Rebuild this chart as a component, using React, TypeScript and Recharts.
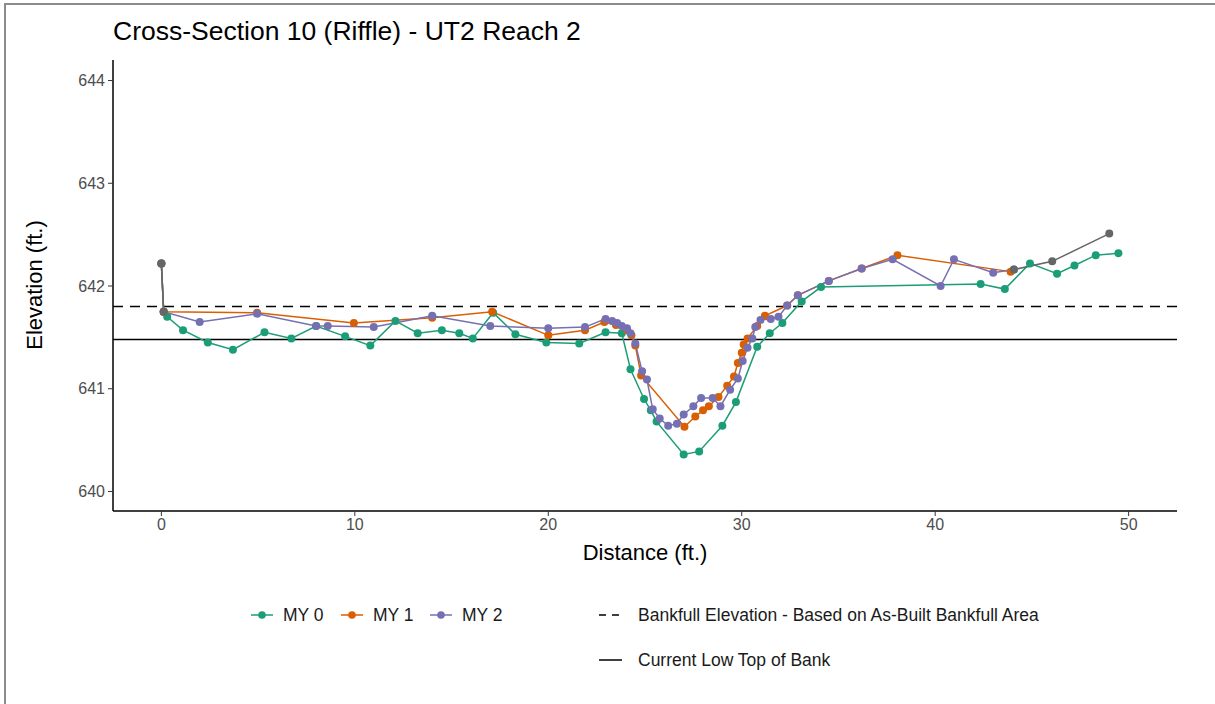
import { LineChart, Line, XAxis, YAxis, ReferenceLine } from "recharts"

// distance (ft.) / elevation (ft.)
const my0Distance = [0, 0.12, 0.3, 1.12, 2.4, 3.7, 5.33, 6.72, 8.0, 9.5, 10.8, 12.1, 13.25, 14.5, 15.4, 16.1, 17.15, 18.3, 19.9, 21.6, 22.96, 23.8, 24.25, 24.95, 25.3, 25.6, 27.0, 27.8, 29.0, 29.7, 30.8, 31.45, 32.1, 33.1, 34.1, 42.35, 43.6, 44.9, 46.3, 47.2, 48.3, 49.47]
const my0Elevation = [642.22, 641.75, 641.7, 641.57, 641.45, 641.38, 641.55, 641.49, 641.61, 641.51, 641.42, 641.66, 641.54, 641.57, 641.54, 641.49, 641.74, 641.53, 641.45, 641.44, 641.55, 641.54, 641.19, 640.9, 640.79, 640.68, 640.36, 640.39, 640.64, 640.87, 641.41, 641.54, 641.64, 641.85, 641.99, 642.02, 641.97, 642.22, 642.12, 642.2, 642.3, 642.32]

const my1Distance = [0, 0.12, 4.95, 9.95, 14.0, 17.1, 20.0, 21.9, 22.9, 23.5, 24.07, 24.3, 24.5, 24.8, 27.04, 27.6, 28.0, 28.3, 28.8, 29.25, 29.6, 29.8, 30.0, 30.1, 30.3, 30.8, 31.2, 32.35, 32.9, 34.5, 36.2, 38.05, 43.9]
const my1Elevation = [642.22, 641.75, 641.74, 641.64, 641.69, 641.75, 641.52, 641.57, 641.65, 641.62, 641.57, 641.52, 641.42, 641.13, 640.63, 640.73, 640.79, 640.83, 640.92, 641.03, 641.12, 641.25, 641.35, 641.43, 641.49, 641.61, 641.71, 641.81, 641.91, 642.05, 642.17, 642.3, 642.14]

const my2Distance = [0, 0.12, 1.98, 4.95, 8.0, 8.6, 10.98, 14.0, 17.0, 20.0, 21.9, 22.96, 23.3, 23.56, 23.8, 24.07, 24.25, 24.5, 24.85, 25.1, 25.4, 25.76, 26.2, 26.65, 27.0, 27.5, 27.9, 28.5, 28.9, 29.4, 29.8, 30.05, 30.3, 30.55, 30.7, 30.97, 31.5, 31.9, 32.35, 32.9, 34.5, 36.2, 37.8, 40.28, 40.97, 43.0, 44.07]
const my2Elevation = [642.22, 641.75, 641.65, 641.73, 641.61, 641.61, 641.6, 641.71, 641.61, 641.59, 641.6, 641.68, 641.66, 641.64, 641.61, 641.59, 641.54, 641.44, 641.17, 641.09, 640.8, 640.71, 640.64, 640.66, 640.75, 640.83, 640.91, 640.91, 640.83, 640.99, 641.1, 641.27, 641.4, 641.49, 641.6, 641.67, 641.68, 641.7, 641.81, 641.91, 642.05, 642.17, 642.26, 642.0, 642.26, 642.13, 642.16]

// gray overlay points (no legend entry); null breaks the line
const extraDistance = [0, 0.12, 20, 44.07, 46.05, 49.0]
const extraElevation = [642.22, 641.75, null, 642.16, 642.24, 642.51]

const bankfullElevation = 641.8
const lowTopOfBank = 641.48

const xTicks = [0, 10, 20, 30, 40, 50]
const yTicks = [640, 641, 642, 643, 644]

const zip = (xs: number[], ys: (number | null)[]) => xs.map((d, i) => ({ distance: d, elevation: ys[i] }))

const my0 = zip(my0Distance, my0Elevation)
const my1 = zip(my1Distance, my1Elevation)
const my2 = zip(my2Distance, my2Elevation)
const extra = zip(extraDistance, extraElevation)

const font = "'Liberation Sans', Arial, Helvetica, sans-serif"

function LegendBox() {
  const pointItem = (cx: number, color: string, label: string) => (
    <g key={label}>
      <line x1={cx - 11} x2={cx + 11} y1={15} y2={15} stroke={color} strokeWidth={1.5} />
      <circle cx={cx} cy={15} r={3.8} fill={color} />
      <text x={cx + 21} y={21} fontSize={17.5} fill="#1a1a1a" fontFamily={font}>{label}</text>
    </g>
  )
  return (
    <svg width={1215} height={75} style={{ display: "block" }}>
      {pointItem(262, "#1B9E77", "MY 0")}
      {pointItem(352, "#D95F02", "MY 1")}
      {pointItem(441, "#7570B3", "MY 2")}
      <line x1={599} x2={622} y1={15} y2={15} stroke="#000" strokeWidth={1.5} strokeDasharray="7 6" />
      <text x={638} y={21} fontSize={17.5} fill="#1a1a1a" fontFamily={font}>Bankfull Elevation - Based on As-Built Bankfull Area</text>
      <line x1={599} x2={622} y1={60} y2={60} stroke="#000" strokeWidth={1.5} />
      <text x={638} y={66} fontSize={17.5} fill="#1a1a1a" fontFamily={font}>Current Low Top of Bank</text>
    </svg>
  )
}

export default function App() {
  const tick = { fill: "#4d4d4d", fontSize: 16, fontFamily: font }
  return (
    <div style={{ position: "absolute", left: 0, top: 0, width: 1215, height: 704, background: "#fff", fontFamily: font }}>
      <div style={{ position: "absolute", left: 4, top: 3, right: 0, bottom: 0, borderLeft: "2px solid #8c8c8c", borderTop: "2px solid #8c8c8c" }} />
      <div style={{ position: "absolute", left: 113, top: 16, fontSize: 26.5, color: "#000", whiteSpace: "nowrap" }}>
        Cross-Section 10 (Riffle) - UT2 Reach 2
      </div>
      <LineChart width={1215} height={704} margin={{ top: 60, right: 38, bottom: 133, left: 13 }} style={{ position: "absolute", left: 0, top: 0 }}>
        <XAxis
          type="number"
          dataKey="distance"
          domain={[-2.5, 52.5]}
          ticks={xTicks}
          allowDataOverflow
          height={60}
          tick={tick}
          tickSize={5}
          tickMargin={3}
          axisLine={{ stroke: "#000", strokeWidth: 1.5 }}
          tickLine={{ stroke: "#333" }}
          label={{
            content: () => (
              <text x={645} y={560} textAnchor="middle" fontSize={22} fontFamily={font} fill="#000">Distance (ft.)</text>
            ),
          }}
        />
        <YAxis
          type="number"
          dataKey="elevation"
          domain={[639.81, 644.2]}
          ticks={yTicks}
          allowDataOverflow
          width={100}
          tick={tick}
          tickSize={5}
          tickMargin={3}
          axisLine={{ stroke: "#000", strokeWidth: 1.5 }}
          tickLine={{ stroke: "#333" }}
          label={{
            content: () => (
              <text x={42} y={285} transform="rotate(-90 42 285)" textAnchor="middle" fontSize={22} fontFamily={font} fill="#000">Elevation (ft.)</text>
            ),
          }}
        />
        <ReferenceLine y={bankfullElevation} stroke="#000" strokeWidth={1.5} strokeDasharray="10 7" />
        <ReferenceLine y={lowTopOfBank} stroke="#000" strokeWidth={1.5} />
        <Line data={my0} dataKey="elevation" name="MY 0" stroke="#1B9E77" strokeWidth={1.5} dot={{ r: 4, fill: "#1B9E77", stroke: "none" }} isAnimationActive={false} />
        <Line data={my1} dataKey="elevation" name="MY 1" stroke="#D95F02" strokeWidth={1.5} dot={{ r: 4, fill: "#D95F02", stroke: "none" }} isAnimationActive={false} />
        <Line data={my2} dataKey="elevation" name="MY 2" stroke="#7570B3" strokeWidth={1.5} dot={{ r: 4, fill: "#7570B3", stroke: "none" }} isAnimationActive={false} />
        <Line data={extra} dataKey="elevation" name="other" stroke="#666666" strokeWidth={1.5} dot={{ r: 4, fill: "#666666", stroke: "none" }} isAnimationActive={false} legendType="none" />
      </LineChart>
      <div style={{ position: "absolute", left: 0, top: 600, width: 1215 }}>
        <LegendBox />
      </div>
    </div>
  )
}
